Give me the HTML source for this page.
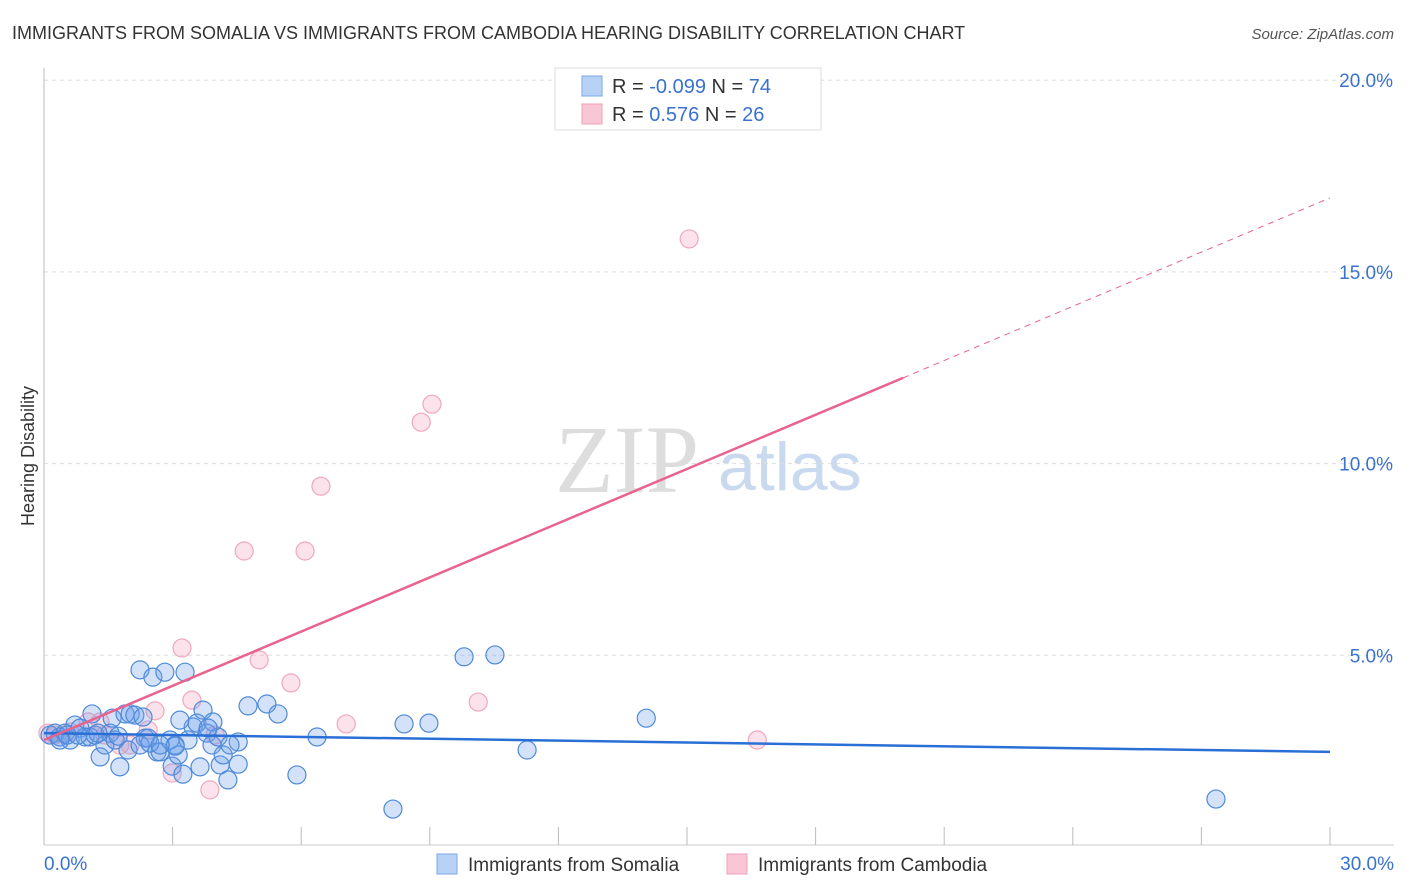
<!DOCTYPE html>
<html><head><meta charset="utf-8"><style>
body{margin:0;background:#fff;font-family:"Liberation Sans",sans-serif}
</style></head><body>
<svg id="c" width="1406" height="892" style="display:block">
<text x="12" y="39" font-size="18" fill="#333">IMMIGRANTS FROM SOMALIA VS IMMIGRANTS FROM CAMBODIA HEARING DISABILITY CORRELATION CHART</text>
<text x="1394" y="39" font-size="15" fill="#555" font-style="italic" text-anchor="end">Source: ZipAtlas.com</text>
<text x="555" y="492" font-size="96" fill="#ddd" font-family="Liberation Serif">ZIP</text>
<text x="718" y="490" font-size="68" fill="#c9d9ef">atlas</text>
<text x="34" y="456" font-size="18" fill="#333" text-anchor="middle" transform="rotate(-90 34 456)">Hearing Disability</text>
<g id="grid"></g><g id="pts"></g><g id="lines"></g>
<g>
<rect x="555" y="68" width="266" height="62" fill="#fff" stroke="#ddd"/>
<rect x="582" y="76" width="20" height="20" fill="#b8d2f5" stroke="#7aa8e8"/>
<rect x="582" y="104" width="20" height="20" fill="#f9c6d6" stroke="#f0a0b8"/>
<text x="612" y="93" font-size="20" fill="#333">R = <tspan fill="#3a72d0">-0.099</tspan>   N = <tspan fill="#3a72d0">74</tspan></text>
<text x="612" y="121" font-size="20" fill="#333">R =    <tspan fill="#3a72d0">0.576</tspan>   N = <tspan fill="#3a72d0">26</tspan></text>
</g>
<g>
<rect x="437" y="854" width="20" height="20" fill="#b8d2f5" stroke="#7aa8e8"/>
<text x="468" y="871" font-size="19" fill="#333">Immigrants from Somalia</text>
<rect x="727" y="854" width="20" height="20" fill="#f9c6d6" stroke="#f0a0b8"/>
<text x="758" y="871" font-size="19" fill="#333">Immigrants from Cambodia</text>
</g>
</svg>
<script>
const yTicks=[5,10,15,20];
const xTickLabels=["0.0%","30.0%"];
const blueX=[0.14,0.26,0.37,0.49,0.61,0.72,0.84,0.96,1.07,1.12,1.19,1.31,1.42,1.54,1.59,1.66,1.77,1.89,1.96,2.01,2.12,2.24,2.31,2.36,2.43,2.54,2.64,2.71,2.82,2.94,2.99,3.06,3.13,3.24,3.29,3.36,3.48,3.57,3.64,3.71,3.80,3.92,3.94,4.06,4.11,4.18,4.29,4.53,4.53,4.76,5.20,5.46,5.90,6.37,8.14,8.40,8.98,9.80,10.52,11.27,14.05,27.34,0.37,0.54,0.79,1.26,1.73,2.24,2.47,3.06,3.17,2.71,3.83,4.34];
const blueY=[2.92,2.97,2.87,2.97,2.79,3.18,3.10,2.87,2.87,3.47,2.92,2.35,2.66,2.97,3.36,2.79,2.09,3.47,2.53,3.47,3.44,4.62,3.39,2.84,2.84,4.43,2.48,2.48,4.56,2.79,2.11,2.66,2.40,1.90,4.56,2.79,3.13,3.23,2.09,3.57,2.97,2.66,3.26,2.87,2.14,2.40,1.75,2.74,2.16,3.68,3.73,3.47,1.88,2.87,0.99,3.21,3.23,4.96,5.01,2.53,3.36,1.25,2.79,2.92,2.92,2.97,2.89,2.66,2.71,2.63,3.31,2.66,3.10,2.66];
const pinkX=[0.09,0.26,0.61,1.03,1.31,1.42,1.77,2.01,2.43,2.59,2.99,3.22,3.45,3.87,3.99,4.67,5.02,5.76,6.09,6.46,7.05,8.80,9.05,10.13,15.05,16.64];
const pinkY=[2.97,2.92,3.00,3.26,3.26,2.92,2.66,2.66,3.05,3.55,1.93,5.19,3.83,1.49,2.92,7.72,4.88,4.28,7.72,9.41,3.21,11.08,11.55,3.78,15.86,2.79];
const blueTrend=[2.97,2.48];
const pinkTrend=[2.79,16.93];
const pinkSolidEnd=20.04;
const X=v=>44+v/30*1286, Y=v=>847-v*38.34;
const NS="http://www.w3.org/2000/svg";
function mk(p,t,a){const e=document.createElementNS(NS,t);for(const k in a)e.setAttribute(k,a[k]);p.appendChild(e);return e;}
const svg=document.getElementById('c'),grid=document.getElementById('grid'),pts=document.getElementById('pts'),lines=document.getElementById('lines');
yTicks.forEach(t=>{
 const l=mk(grid,'line',{x1:44,x2:1394,y1:Y(t),y2:Y(t),stroke:'#ddd','stroke-dasharray':'4 4'});
 
 
 const tx=mk(grid,'text',{x:1393,y:Y(t)+7,'font-size':19,fill:'#3a72d0','text-anchor':'end'});
 tx.textContent=t.toFixed(1)+'%';
 
 
});
const ax=mk(grid,'line',{x1:44,x2:44,y1:68,y2:845,stroke:'#bbb'});


const bx=mk(grid,'line',{x1:44,x2:1394,y1:845,y2:845,stroke:'#ccc'});


for(let i=0;i<=10;i++){const t=mk(grid,'line',{x1:X(i*3),x2:X(i*3),y1:827,y2:845,stroke:'#bbb'});
 
 }
[[0,'start',44],[30,'end',1394]].forEach((d,i)=>{const t=mk(grid,'text',{x:d[2],y:870,'font-size':19,fill:'#3a72d0','text-anchor':d[1]});t.textContent=xTickLabels[i];
 
 });
pinkX.forEach((x,i)=>{const c=mk(pts,'circle',{cx:X(x),cy:Y(pinkY[i]),r:9,fill:'rgba(245,160,190,0.3)',stroke:'#f0a8be','stroke-width':1.2});
 
 });
blueX.forEach((x,i)=>{const c=mk(pts,'circle',{cx:X(x),cy:Y(blueY[i]),r:9,fill:'rgba(110,160,235,0.3)',stroke:'#4f8ad8','stroke-width':1.2});
 
 });
const pAt=x=>pinkTrend[0]+(pinkTrend[1]-pinkTrend[0])*x/30;
const bl=mk(lines,'line',{x1:X(0),y1:Y(blueTrend[0]),x2:X(30),y2:Y(blueTrend[1]),stroke:'#2a6fd6','stroke-width':2.5});


const pl=mk(lines,'line',{x1:X(0),y1:Y(pAt(0)),x2:X(pinkSolidEnd),y2:Y(pAt(pinkSolidEnd)),stroke:'#e8648e','stroke-width':2.5});


const pd=mk(lines,'line',{x1:X(pinkSolidEnd),y1:Y(pAt(pinkSolidEnd)),x2:X(30),y2:Y(pAt(30)),stroke:'#e8648e','stroke-width':1,'stroke-dasharray':'6 5'});


</script>
</body></html>
